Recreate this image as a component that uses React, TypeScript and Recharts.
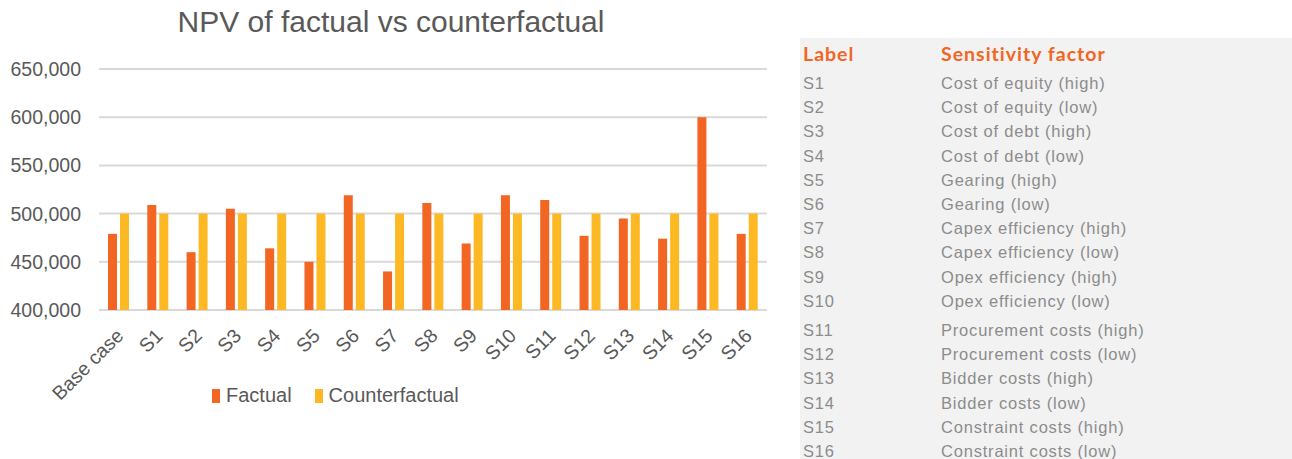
import { BarChart, Bar, XAxis, YAxis, CartesianGrid, Legend } from 'recharts';

const categories = ['Base case', 'S1', 'S2', 'S3', 'S4', 'S5', 'S6', 'S7', 'S8', 'S9', 'S10', 'S11', 'S12', 'S13', 'S14', 'S15', 'S16'];
const factual = [479000, 509000, 460000, 505000, 464000, 450000, 519000, 440000, 511000, 469000, 519000, 514000, 477000, 495000, 474000, 600000, 479000];
const counterfactual = [500000, 500000, 500000, 500000, 500000, 500000, 500000, 500000, 500000, 500000, 500000, 500000, 500000, 500000, 500000, 500000, 500000];
const yTicks = [400000, 450000, 500000, 550000, 600000, 650000];
const seriesOrder = ['Factual', 'Counterfactual'];

const tableLabels = ['S1', 'S2', 'S3', 'S4', 'S5', 'S6', 'S7', 'S8', 'S9', 'S10', 'S11', 'S12', 'S13', 'S14', 'S15', 'S16'];
const tableFactors = [
  'Cost of equity (high)', 'Cost of equity (low)', 'Cost of debt (high)', 'Cost of debt (low)',
  'Gearing (high)', 'Gearing (low)', 'Capex efficiency (high)', 'Capex efficiency (low)',
  'Opex efficiency (high)', 'Opex efficiency (low)', 'Procurement costs (high)', 'Procurement costs (low)',
  'Bidder costs (high)', 'Bidder costs (low)', 'Constraint costs (high)', 'Constraint costs (low)',
];

const ORANGE = '#F26522';
const YELLOW = '#FDB924';
const GREY = '#595959';
const FONT = '"Liberation Sans", Arial, sans-serif';

const data = categories.map((c, i) => ({ name: c, factual: factual[i], counterfactual: counterfactual[i] }));

const XTick = (props: any) => {
  const { x, y, payload } = props;
  return (
    <text
      x={x + 1}
      y={y + 14}
      transform={`rotate(-45, ${x + 1}, ${y + 14})`}
      textAnchor="end"
      dominantBaseline="central"
      fontSize={19.5}
      fontFamily={FONT}
      fill={GREY}
    >
      {payload.value}
    </text>
  );
};

// legend in the same order as the bars
const renderLegend = (props: any) => {
  const items = [...props.payload].sort((a: any, b: any) => seriesOrder.indexOf(a.value) - seriesOrder.indexOf(b.value));
  return (
    <div style={{ display: 'flex', gap: 23, fontFamily: FONT, fontSize: 20, color: GREY }}>
      {items.map((p: any) => (
        <div key={p.value} style={{ display: 'flex', alignItems: 'center' }}>
          <span style={{ display: 'inline-block', width: 8, height: 14, background: p.color, marginRight: 6 }} />
          <span>{p.value}</span>
        </div>
      ))}
    </div>
  );
};

const cell = { position: 'absolute' as const, fontFamily: FONT, fontSize: 16.5, letterSpacing: 0.8, color: '#8c8c8c', lineHeight: '20px' };
const head = { position: 'absolute' as const, top: 4, fontFamily: 'Lato, sans-serif', fontWeight: 700, fontSize: 19.5, letterSpacing: 1, color: ORANGE };

export default function App() {
  return (
    <div style={{ position: 'absolute', left: 0, top: 0, width: 1292, height: 459, background: '#fff', overflow: 'hidden' }}>
      <div style={{ position: 'absolute', left: 0, top: 5, width: 782, textAlign: 'center', fontFamily: FONT, fontSize: 30, color: GREY }}>
        NPV of factual vs counterfactual
      </div>
      <div style={{ position: 'absolute', left: 0, top: 0 }}>
        <BarChart width={780} height={459} data={data} margin={{ top: 69, right: 13, left: 0, bottom: 0 }} barSize={9} barGap={3}>
          <CartesianGrid vertical={false} stroke="#d9d9d9" strokeWidth={2} />
          <XAxis dataKey="name" interval={0} height={149} tick={<XTick />} tickLine={false} axisLine={false} />
          <YAxis
            width={99}
            domain={[400000, 650000]}
            ticks={yTicks}
            tickFormatter={(v: number) => v.toLocaleString('en-US')}
            tick={{ fontSize: 19.5, fill: GREY, fontFamily: FONT }}
            tickLine={false}
            axisLine={false}
            tickMargin={12}
          />
          <Legend
            layout="horizontal"
            verticalAlign="middle"
            align="center"
            content={renderLegend}
            wrapperStyle={{ top: 384, left: 212, width: 300 }}
          />
          <Bar dataKey="factual" name="Factual" fill={ORANGE} isAnimationActive={false} />
          <Bar dataKey="counterfactual" name="Counterfactual" fill={YELLOW} isAnimationActive={false} />
        </BarChart>
      </div>
      <div style={{ position: 'absolute', left: 800, top: 38, width: 492, height: 421, background: '#f2f2f2' }}>
        <div style={{ ...head, left: 3 }}>Label</div>
        <div style={{ ...head, left: 141 }}>Sensitivity factor</div>
        {tableLabels.map((l, i) => {
          const top = 35 + i * 24.2 + (i >= 10 ? 5 : 0);
          return (
            <div key={l}>
              <div style={{ ...cell, left: 3, top }}>{l}</div>
              <div style={{ ...cell, left: 141, top }}>{tableFactors[i]}</div>
            </div>
          );
        })}
      </div>
    </div>
  );
}
